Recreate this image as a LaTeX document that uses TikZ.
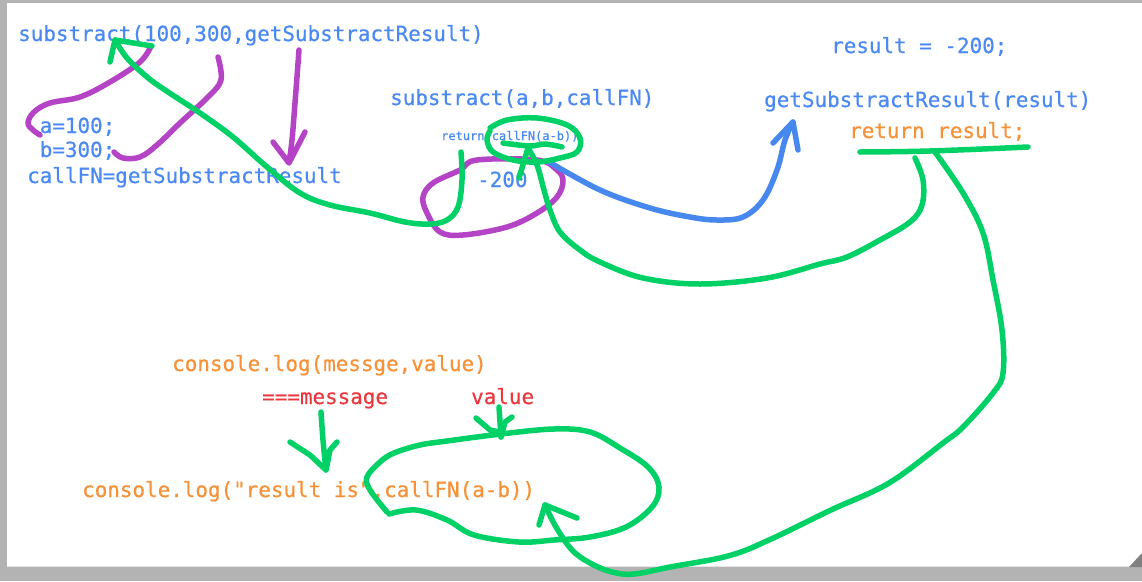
\documentclass[tikz,border=0pt]{standalone}
\usepackage{fontspec}
\newfontfamily\codefont{DejaVu Sans Mono}[FakeBold=0.5]
\definecolor{txtblue}{RGB}{74,137,243}
\definecolor{txtorange}{RGB}{247,145,55}
\definecolor{txtred}{RGB}{234,56,62}
\definecolor{pgreen}{RGB}{0,209,102}
\definecolor{ppurple}{RGB}{180,67,198}
\definecolor{pblue}{RGB}{70,136,238}
\definecolor{framegray}{RGB}{179,179,179}
\definecolor{cornergray}{RGB}{128,128,128}
\tikzset{
  code/.style={font=\codefont\fontsize{20.9}{24}\selectfont, inner sep=0pt, anchor=base west},
  smallcode/.style={font=\codefont\fontsize{12}{14}\selectfont, inner sep=0pt, anchor=base west},
  pen/.style={line width=5.5pt, line cap=round, line join=round},
  gpen/.style={pen, draw=pgreen},
  ppen/.style={pen, draw=ppurple},
  bpen/.style={pen, draw=pblue},
}
\begin{document}
\begin{tikzpicture}[x=1pt,y=-1pt]
\useasboundingbox (0,0) rectangle (1142,581);
% frame
\fill[white] (0,0) rectangle (1142,581);
\fill[framegray] (0,0) rectangle (1142,3);
\fill[framegray] (0,0) rectangle (7,581);
\fill[framegray] (0,567) rectangle (1142,581);
\fill[black!10] (7,565.5) rectangle (1142,567);
\fill[cornergray] (1129,567) -- (1142,567) -- (1142,553) -- cycle;

% texts
\node[code, text=txtblue] (call) at (18,41) {substract(100,300,getSubstractResult)};
\node[code, text=txtblue] (pa) at (27,133) {\ a=100;};
\node[code, text=txtblue] (pb) at (27,157) {\ b=300;};
\node[code, text=txtblue] (pc) at (27,183) {callFN=getSubstractResult};
\node[code, text=txtblue] (def) at (390,105) {substract(a,b,callFN)};
\node[smallcode, text=txtblue] (ret) at (441,140) {return callFN(a-b))};
\node[code, text=txtblue] (val) at (477,187) {-200};
\node[code, text=txtblue] (res) at (831,53) {result = -200;};
\node[code, text=txtblue] (gsr) at (764,107) {getSubstractResult(result)};
\node[code, text=txtorange] (retres) at (849,138) {return result;};
\node[code, text=txtorange] (cl1) at (172,371) {console.log(messge,value)};
\node[code, text=txtred] (msg) at (262,404) {===message};
\node[code, text=txtred] (vlab) at (471,404) {value};
\node[code, text=txtorange] (cl2) at (82,497) {console.log("result is",callFN(a-b))};

% purple strokes
\draw[ppen] plot[smooth, tension=0.6] coordinates {(151,46) (140,62) (110,82) (80,97) (50,103) (34,112) (28,123) (33,130) (40,135)};
\draw[ppen] plot[smooth, tension=0.6] coordinates {(218,57) (221,80) (208,97) (180,123) (157,145) (140,157) (123,158) (114,152)};
\draw[ppen] plot[smooth, tension=0.6] coordinates {(299,50) (296,90) (292,140) (289,162)};
\draw[ppen] (273,142) -- (289,163) -- (305,132);
\draw[ppen] plot[smooth cycle, tension=0.6] coordinates {(477,160) (537,160) (557,170) (563,181) (557,197) (537,213) (507,227) (463,235) (440,232) (427,213) (423,197) (433,183) (460,170)};

% blue arrow
\draw[bpen] plot[smooth, tension=0.6] coordinates {(549,162) (600,190) (650,208) (690,217) (717,220) (743,217) (763,200) (777,170) (785,140) (793,122)};
\draw[bpen] (773,143) -- (793,122) -- (798,150);

% green strokes
\draw[gpen] (110,62) -- (115,40) -- (152,46);
\draw[gpen] plot[smooth, tension=0.6] coordinates {(115,40) (127,58) (147,77) (165,90) (200,113) (233,137) (267,167) (300,193) (330,205) (370,213) (405,222) (430,224) (447,220) (458,207) (462,180) (461,152)};
\draw[gpen] plot[smooth, tension=0.6] coordinates {(490,128) (507,120) (537,118) (567,125) (580,138) (577,152) (560,158) (537,162) (513,160) (493,152) (487,140) (490,131)};
\draw[gpen] plot[smooth, tension=0.6] coordinates {(503,143) (530,146) (545,144) (562,147)};
\draw[gpen] (519,178) -- (528,148);
\draw[gpen] plot[smooth, tension=0.6] coordinates {(528,148) (537,165) (544,190) (550,210) (560,232) (580,250) (600,262) (643,278) (700,284) (767,278) (820,264) (847,257) (880,240) (910,222) (922,205) (923,180) (915,158)};
\draw[gpen] plot[smooth, tension=0.6] coordinates {(860,152) (930,151) (1028,147)};
\draw[gpen] plot[smooth, tension=0.6] coordinates {(935,152) (963,193) (983,233) (993,280) (1002,330) (1003,373) (993,393) (963,427) (943,443) (889,483) (831,510) (769,540) (728,556) (670,567) (634,574) (612,572) (590,563) (572,550) (556,527) (545,505)};
\draw[gpen] (539,525) -- (545,505) -- (577,518);
\draw[gpen] plot[smooth, tension=0.6] coordinates {(387,512) (370,490) (367,477) (380,462) (394,453) (420,445) (447,441) (501,434) (554,429) (590,432) (620,448) (648,467) (659,487) (652,507) (626,527) (590,537) (554,540) (519,542) (474,535) (447,520) (416,510) (389,514)};
\draw[gpen] plot[smooth, tension=0.6] coordinates {(321,412) (323,440) (326,470)};
\draw[gpen] (290,442) -- (310,455) -- (326,470) -- (330,450) -- (337,442);
\draw[gpen] plot[smooth, tension=0.6] coordinates {(499,407) (500,422) (501,437)};
\draw[gpen] (476,418) -- (490,430) -- (500,432);
\draw[gpen] (501,437) -- (505,422) -- (512,417);
\end{tikzpicture}
\end{document}
